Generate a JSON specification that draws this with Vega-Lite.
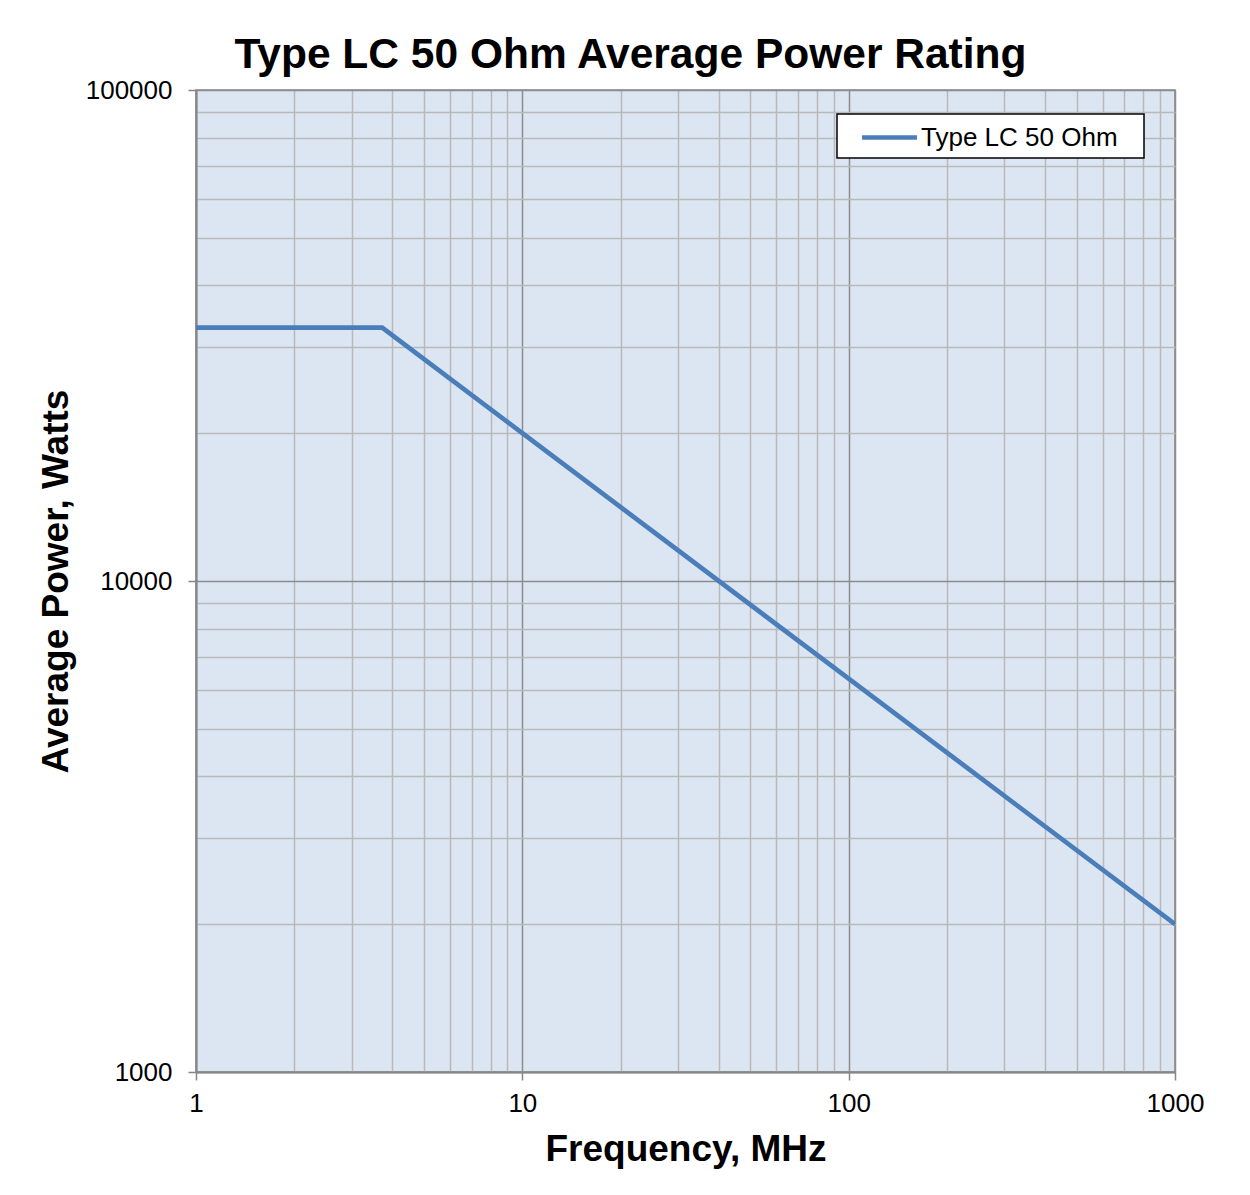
{
  "$schema": "https://vega.github.io/schema/vega-lite/v6.json",
  "width": 979,
  "height": 982,
  "autosize": "none",
  "padding": {"left": 196, "top": 90, "right": 75, "bottom": 123},
  "background": "white",
  "title": {
    "text": "Type LC 50 Ohm Average Power Rating",
    "font": "Liberation Sans",
    "fontSize": 42.5,
    "fontWeight": "bold",
    "color": "black",
    "anchor": "middle",
    "dx": -55,
    "offset": 1
  },
  "data": {
    "values": [
      {"freq": 1, "power": 32800, "series": "Type LC 50 Ohm"},
      {"freq": 3.72, "power": 32800, "series": "Type LC 50 Ohm"},
      {"freq": 10, "power": 20000, "series": "Type LC 50 Ohm"},
      {"freq": 100, "power": 6325, "series": "Type LC 50 Ohm"},
      {"freq": 1000, "power": 2000, "series": "Type LC 50 Ohm"}
    ]
  },
  "mark": {"type": "line", "strokeWidth": 4.7, "clip": true},
  "encoding": {
    "x": {
      "field": "freq",
      "type": "quantitative",
      "scale": {"type": "log", "domain": [1, 1000], "nice": false},
      "axis": {
        "title": "Frequency, MHz",
        "values": [1,2,3,4,5,6,7,8,9,10,20,30,40,50,60,70,80,90,100,200,300,400,500,600,700,800,900,1000],
        "labelExpr": "(datum.value==1||datum.value==10||datum.value==100||datum.value==1000) ? format(datum.value,'d') : ''",
        "gridColor": {"condition": {"test": "datum.value==1||datum.value==10||datum.value==100||datum.value==1000", "value": "#8C8C8C"}, "value": "#B9B9B9"},
        "tickOpacity": {"condition": {"test": "datum.value==1||datum.value==10||datum.value==100||datum.value==1000", "value": 1}, "value": 0},
        "labelFlush": false,
        "labelPadding": 10,
        "titlePadding": 15
      }
    },
    "y": {
      "field": "power",
      "type": "quantitative",
      "scale": {"type": "log", "domain": [1000, 100000], "nice": false},
      "axis": {
        "title": "Average Power, Watts",
        "values": [1000,2000,3000,4000,5000,6000,7000,8000,9000,10000,20000,30000,40000,50000,60000,70000,80000,90000,100000],
        "labelExpr": "(datum.value==1000||datum.value==10000||datum.value==100000) ? format(datum.value,'d') : ''",
        "gridColor": {"condition": {"test": "datum.value==1000||datum.value==10000||datum.value==100000", "value": "#8C8C8C"}, "value": "#B9B9B9"},
        "tickOpacity": {"condition": {"test": "datum.value==1000||datum.value==10000||datum.value==100000", "value": 1}, "value": 0},
        "labelFlush": false,
        "labelPadding": 16,
        "titlePadding": 10
      }
    },
    "color": {
      "field": "series",
      "type": "nominal",
      "scale": {"domain": ["Type LC 50 Ohm"], "range": ["#4A7EBB"]},
      "legend": {
        "title": null,
        "orient": "none",
        "legendX": 641,
        "legendY": 24,
        "fillColor": "white",
        "strokeColor": "black",
        "padding": 7,
        "symbolType": "M-2,0H2",
        "symbolSize": 756,
        "symbolStrokeWidth": 4.7,
        "symbolOffset": 29,
        "labelOffset": 15,
        "labelLimit": 500,
        "labelExpr": "datum.label + '\u2800'",
        "labelFont": "Liberation Sans",
        "labelFontSize": 26,
        "labelColor": "black",
        "encode": {"legend": {"update": {"strokeWidth": {"value": 1.5}}}}
      }
    }
  },
  "config": {
    "view": {"fill": "#DCE6F2", "stroke": "#868686", "strokeWidth": 1.5},
    "axis": {
      "labelFont": "Liberation Sans",
      "labelFontSize": 26,
      "labelColor": "black",
      "labelOverlap": false,
      "titleFont": "Liberation Sans",
      "titleFontSize": 37,
      "titleFontWeight": "bold",
      "titleColor": "black",
      "tickSize": 8,
      "tickColor": "#868686",
      "tickWidth": 1.5,
      "domainColor": "#868686",
      "domainWidth": 2,
      "gridWidth": 1.5
    }
  }
}
